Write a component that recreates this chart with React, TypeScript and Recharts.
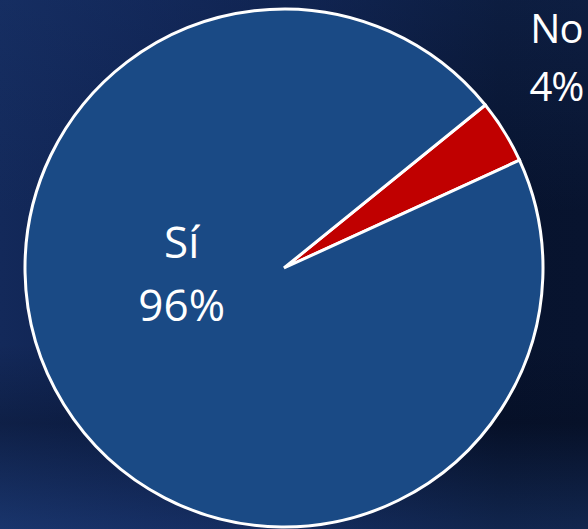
import React from 'react';
import { PieChart, Pie, Cell } from 'recharts';

const categories = ['No', 'Sí'];
const values = [4, 96];
const percentLabels = ['4%', '96%'];
const colors = ['#C00000', '#1A4A85'];

const data = categories.map((name, i) => ({ name, value: values[i], pct: percentLabels[i] }));

const FONT = '"Open Sans", "Noto Sans", sans-serif';

const renderLabel = (props: any) => {
  const { cx, cy, outerRadius, index } = props;
  const entry = data[index];
  let x: number;
  let y: number;
  if (index === 0) {
    x = cx + outerRadius * 1.052;
    y = cy - outerRadius * 0.87;
  } else {
    x = cx - outerRadius * 0.395;
    y = cy - outerRadius * 0.037;
  }
  return (
    <text
      key={`lbl-${index}`}
      x={x}
      y={y}
      fill="#FFFFFF"
      textAnchor="middle"
      fontFamily={FONT}
      fontSize={index === 0 ? 40 : 44}
      letterSpacing={index === 0 ? -1 : 0}
    >
      <tspan x={x} dy={0}>{entry.name}</tspan>
      <tspan x={x} dy={index === 0 ? 58 : 63}>{entry.pct}</tspan>
    </text>
  );
};

export default function App() {
  return (
    <div
      style={{
        position: 'fixed',
        left: 0,
        top: 0,
        width: 588,
        height: 529,
        overflow: 'hidden',
        background:
          'linear-gradient(180deg, rgba(0,0,0,0) 0%, rgba(0,0,0,0) 65%, rgba(4,10,26,0.3) 80%, rgba(40,80,150,0.3) 100%), linear-gradient(180deg, rgba(30,60,120,0.25) 0%, rgba(30,60,120,0) 40%), linear-gradient(90deg, #13295a 0%, #0f2250 25%, #0b1b42 55%, #07132e 85%, #08142f 100%)',
      }}
    >
      <PieChart width={588} height={529} margin={{ top: 0, right: 0, bottom: 0, left: 0 }}>
        <Pie
          data={data}
          dataKey="value"
          nameKey="name"
          cx={284}
          cy={268}
          outerRadius={259}
          startAngle={24.6}
          endAngle={384.6}
          stroke="#FFFFFF"
          strokeWidth={3}
          label={renderLabel}
          labelLine={false}
          isAnimationActive={false}
        >
          {data.map((d, i) => (
            <Cell key={d.name} fill={colors[i]} />
          ))}
        </Pie>
      </PieChart>
    </div>
  );
}
